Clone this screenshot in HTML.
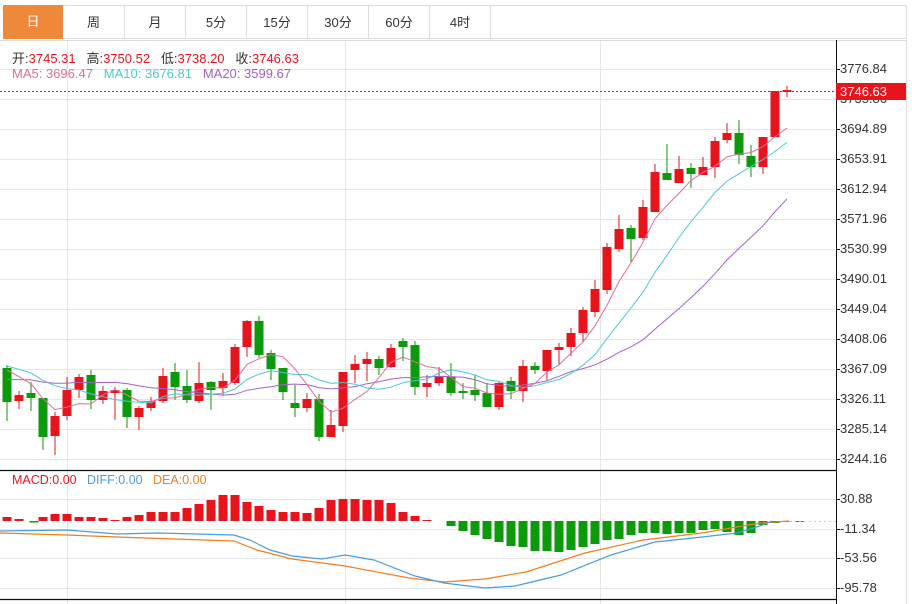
<!DOCTYPE html>
<html><head><meta charset="utf-8"><style>
html,body{margin:0;padding:0;background:#fff;width:912px;height:604px;overflow:hidden;font-family:"Liberation Sans","Noto Sans CJK SC",sans-serif;}
.tabs{position:absolute;left:3px;top:5px;height:35px;}
.tab{position:absolute;top:0;height:34px;border:1px solid #ddd;border-left:none;font-size:13px;color:#333;text-align:center;line-height:34px;box-sizing:border-box}
.txt{position:absolute;font-size:13px;white-space:nowrap}
.ax{position:absolute;left:840px;font-size:13px;color:#333}
</style></head><body>
<svg id="s" width="912" height="604" style="position:absolute;left:0;top:0"></svg>
<div class="tabs">
<div class="tab" style="left:0;width:60px;background:#f0883a;color:#fff;border:none">日</div>
<div class="tab" style="left:60px;width:62px;border-top:1px solid #ddd">周</div>
<div class="tab" style="left:122px;width:61px">月</div>
<div class="tab" style="left:183px;width:61px">5分</div>
<div class="tab" style="left:244px;width:61px">15分</div>
<div class="tab" style="left:305px;width:61px">30分</div>
<div class="tab" style="left:366px;width:61px">60分</div>
<div class="tab" style="left:427px;width:61px">4时</div>
<div class="tab" style="left:488px;width:416px"></div>
</div>
<div class="txt" style="left:12px;top:48px;color:#333">开:<span style="color:#e8141b">3745.31</span>&nbsp;&nbsp; 高:<span style="color:#e8141b">3750.52</span>&nbsp;&nbsp; 低:<span style="color:#e8141b">3738.20</span>&nbsp;&nbsp; 收:<span style="color:#e8141b">3746.63</span></div>
<div class="txt" style="left:12px;top:66px"><span style="color:#e06d9b">MA5: 3696.47</span>&nbsp;&nbsp; <span style="color:#4fc6d4">MA10: 3676.81</span>&nbsp;&nbsp; <span style="color:#a361c8">MA20: 3599.67</span></div>
<div class="txt" style="left:12px;top:473px;font-size:12.5px"><span style="color:#e8141b">MACD:0.00</span>&nbsp;&nbsp; <span style="color:#4a9de0">DIFF:0.00</span>&nbsp;&nbsp; <span style="color:#f07f1e">DEA:0.00</span></div>
<div class="ax" style="top:61px">3776.84</div>
<div class="ax" style="top:91px">3735.86</div>
<div class="ax" style="top:121px">3694.89</div>
<div class="ax" style="top:151px">3653.91</div>
<div class="ax" style="top:181px">3612.94</div>
<div class="ax" style="top:211px">3571.96</div>
<div class="ax" style="top:241px">3530.99</div>
<div class="ax" style="top:271px">3490.01</div>
<div class="ax" style="top:301px">3449.04</div>
<div class="ax" style="top:331px">3408.06</div>
<div class="ax" style="top:361px">3367.09</div>
<div class="ax" style="top:391px">3326.11</div>
<div class="ax" style="top:421px">3285.14</div>
<div class="ax" style="top:451px">3244.16</div>
<div style="position:absolute;left:836px;top:83px;width:70px;height:17px;background:#e8141b;color:#fff;font-size:13px;line-height:17px;padding-left:4px;box-sizing:border-box">3746.63</div>
<div class="ax" style="top:491px">30.88</div>
<div class="ax" style="top:521px">-11.34</div>
<div class="ax" style="top:550px">-53.56</div>
<div class="ax" style="top:580px">-95.78</div>
<script>
var s=document.getElementById('s'),h='';
function L(x1,y1,x2,y2,c,w,d){h+='<line x1="'+x1+'" y1="'+y1+'" x2="'+x2+'" y2="'+y2+'" stroke="'+c+'" stroke-width="'+(w||1)+'"'+(d?' stroke-dasharray="'+d+'"':'')+'/>';}
[69,99,129,159,189,219,249,279,309,339,369,399,429,459,499,529,558,588].forEach(function(y){L(0,y+.5,836,y+.5,'#e6e6e6');});
[67,345,600].forEach(function(x){L(x+.5,40,x+.5,604,'#e6e6e6');});
L(906.5,40,906.5,604,'#ddd');
var C=[['g',368,402,365,421],['r',395,401,391,409],['g',393,398,382,411],['g',398,437,398,450],['r',416,436,412,455],['r',390,416,377,420],['r',377,390,374,398],['g',375,400,370,409],['r',391,400,386,404],['r',390,393,387,420],['g',390,417,388,428],['r',408,417,406,430],['r',401,408,397,411],['r',376,401,368,403],['g',372,387,363,400],['g',386,400,370,403],['r',383,401,362,403],['g',382,390,381,410],['r',381,388,373,395],['r',347,383,344,385],['r',321,347,320,357],['g',321,355,316,358],['g',353,369,350,380],['g',368,392,368,400],['g',403,408,385,417],['r',399,408,393,412],['g',399,437,394,441],['r',425,437,410,437],['r',372,426,372,432],['r',364,370,355,383],['r',359,364,352,381],['g',359,368,356,375],['r',348,367,344,368],['g',341,347,338,361],['g',345,387,341,395],['r',383,387,375,397],['r',377,383,367,386],['g',377,393,363,396],['g',391,393,383,399],['g',390,395,375,401],['g',393,407,383,407],['r',383,407,382,410],['g',381,391,377,399],['r',366,391,360,402],['g',366,370,362,374],['r',350,371,350,380],['r',347,350,343,364],['r',333,347,328,356],['r',310,333,307,342],['r',289,312,280,317],['r',247,290,243,294],['r',229,249,215,252],['g',228,239,225,262],['r',207,238,200,240],['r',172,212,164,212],['g',173,180,144,180],['r',169,183,156,183],['g',168,174,163,188],['r',167,175,157,175],['r',141,167,137,178],['r',133,140,123,143],['g',133,155,120,164],['g',156,167,145,177],['r',137,167,137,174],['r',91,137,91,137],['r',90,92,86,97]];
var n=C.length,X=function(i){return 7+i*(780/(n-1));};
var cl=[];for(var k=0;k<10;k++)cl.push(393);for(k=0;k<9;k++)cl.push(362);
C.forEach(function(c,i){cl.push(c[0]=='r'?c[1]:c[2]);});
function ma(p,col){var pts=[];for(var i=0;i<n;i++){var t=0;for(var j=0;j<p;j++)t+=cl[19+i-j];pts.push(X(i).toFixed(1)+','+(t/p).toFixed(1));}
h+='<polyline points="'+pts.join(' ')+'" fill="none" stroke="'+col+'" stroke-width="1"/>';}
C.forEach(function(c,i){var x=X(i),col=c[0]=='r'?'#e8141b':'#0a9a0a';L(x,c[3],x,c[4],col,1);var hh=Math.max(c[2]-c[1],1.5);h+='<rect x="'+(x-4.5)+'" y="'+c[1]+'" width="9" height="'+hh+'" fill="'+col+'"/>';});
ma(20,'#a361c8');ma(10,'#4fc6d4');ma(5,'#e06d9b');
L(0,91.5,836,91.5,'#e8141b',1,'2,2');
var M=[517,519,-524,517,514,514,517,517,518,520,517,515,512,512,512,508,504,500,495,495,502,506,510,512,512,513,508,500,499,499,500,500,503,512,516,520,521,526,531,535,539,542,546,547,551,551,552,550,547,544,540,539,535,533,533,534,533,533,530,529,532,535,533,525,523,522,522];
var z=521;
M.forEach(function(v,i){var x=X(i);if(v<0){h+='<rect x="'+(x-1.5)+'" y="'+z+'" width="9" height="1.5" fill="#0a9a0a"/>';return;}
if(v<z)h+='<rect x="'+(x-4.5)+'" y="'+v+'" width="9" height="'+(z-v)+'" fill="#e8141b"/>';else if(v>z)h+='<rect x="'+(x-4.5)+'" y="'+z+'" width="9" height="'+(v-z)+'" fill="#0a9a0a"/>';});
L(789,521.5,836,521.5,'#9fd3ea',1,'2,3');
h+='<polyline points="0,533 67,535 117,537 234,541 257,550 292,559 345,566 409,578 444,582 485,579 526,572 585,553 643,540 702,533 760,523 789,521" fill="none" stroke="#f07f1e" stroke-width="1.2"/>';
h+='<polyline points="0,531 67,530 117,534 158,533 234,535 250,540 270,550 292,556 322,559 345,555 374,560 415,576 444,583 485,588 515,586 561,575 611,555 655,542 702,537 737,533 760,526 772,521" fill="none" stroke="#4a9de0" stroke-width="1.2"/>';
L(0,40.5,906,40.5,'#ddd');
L(0,470.5,836,470.5,'#111',1.2);L(0,599.5,836,599.5,'#111',1.2);
L(836.5,40,836.5,604,'#111',1);
[69,99,129,159,189,219,249,279,309,339,369,399,429,459,499,529,558,588].forEach(function(y){L(836,y+.5,840,y+.5,'#111');});
s.innerHTML=h;
</script>
</body></html>
